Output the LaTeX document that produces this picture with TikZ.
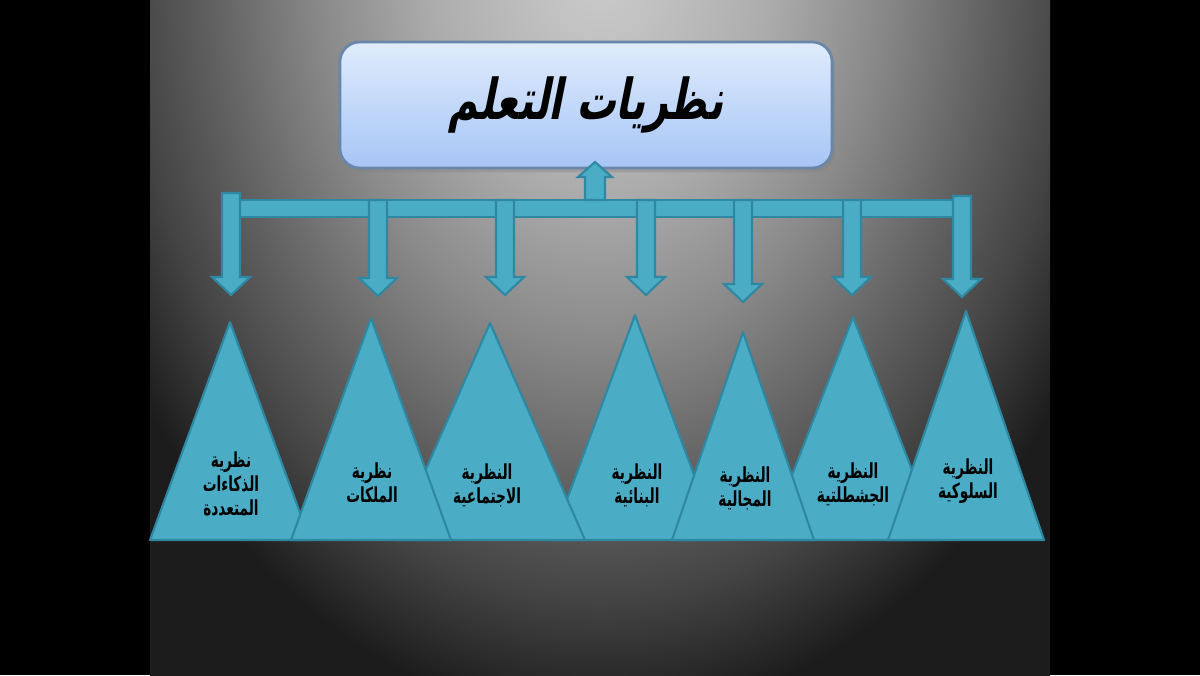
\documentclass[tikz,border=0pt]{standalone}
\usepackage{fontspec}
\usetikzlibrary{calc, shadows}
\TeXXeTstate=1
\newfontfamily\arabicfont[Script=Arabic,FakeStretch=0.66]{DejaVu Sans}
\newfontfamily\titlefont[Script=Arabic,FakeSlant=0.2,FakeStretch=0.7]{DejaVu Sans}
\newcommand{\arline}[1]{\beginR #1\endR}

\definecolor{tealfill}{HTML}{4BACC6}
\definecolor{tealline}{HTML}{2E88A2}
\definecolor{boxtop}{HTML}{E0ECFC}
\definecolor{boxbot}{HTML}{A6C5F6}
\definecolor{boxline}{HTML}{6A86A8}
\definecolor{bgA}{HTML}{CDCDCD}
\definecolor{bgB}{HTML}{ADADAD}
\definecolor{bgC}{HTML}{8A8A8A}
\definecolor{bgD}{HTML}{606060}
\definecolor{bgE}{HTML}{444444}
\definecolor{bgF}{HTML}{1C1C1C}
\pgfdeclareradialshading{slidebg}{\pgfpointorigin}{color(0bp)=(bgA); color(7.5bp)=(bgB); color(12.5bp)=(bgC); color(17.5bp)=(bgD); color(21bp)=(bgE); color(25bp)=(bgF); color(50bp)=(bgF)}

\begin{document}
\begin{tikzpicture}[x=0.01cm, y=-0.01cm,
	tri/.style={fill=tealfill, draw=tealline, line width=0.6pt, line join=round},
	blockarrow/.style={fill=tealfill, draw=tealline, line width=0.6pt, line join=miter},
	titlebox/.style={draw=boxline, line width=0.8pt, rounded corners=0.2cm, top color=boxtop, bottom color=boxbot,
		minimum width=4.92cm, minimum height=1.26cm, drop shadow={shadow xshift=0.8pt, shadow yshift=-1.2pt, opacity=0.35}},
	lbl/.style={font=\arabicfont\bfseries\fontsize{5.9}{6.8}\selectfont, align=center, inner sep=0pt}]

	% slide background
	\fill[black] (0,0) rectangle (1200,675);
	\begin{scope}
		\clip (150,0) rectangle (1050,675);
		% box of the ellipse centred at (600,-40), radii 560 x 760
		\shade[shading=slidebg] (40,-800) rectangle (1160,720);
	\end{scope}

	% triangles, back ones first
	\foreach \i/\x/\y/\w in {1/230/322/80, 4/635/315/83, 6/853/317/86, 3/490/323/95, 2/371/318/80, 5/743/332/71, 7/966/311/78}
		\draw[tri] (\x,\y) coordinate (apex\i) -- (\x+\w,540) -- (\x-\w,540) -- cycle;

	\node[lbl] (lab1) at (231,484) {\arline{نظرية}\\\arline{الذكاءات}\\\arline{المتعددة}};
	\node[lbl] (lab2) at (372,483) {\arline{نظرية}\\\arline{الملكات}};
	\node[lbl] (lab3) at (487,485) {\arline{النظرية}\\\arline{الاجتماعية}};
	\node[lbl] (lab4) at (637,485) {\arline{النظرية}\\\arline{البنائية}};
	\node[lbl] (lab5) at (745,488) {\arline{النظرية}\\\arline{المجالية}};
	\node[lbl] (lab6) at (853,484) {\arline{النظرية}\\\arline{الجشطلتية}};
	\node[lbl] (lab7) at (968,481) {\arline{النظرية}\\\arline{السلوكية}};

	% title
	\node[titlebox, font=\titlefont\bfseries\fontsize{16}{19}\selectfont] (title) at (586,105) {\arline{نظريات التعلم}};

	% bar and arrows
	\coordinate (barL) at (222,200);
	\coordinate (barR) at (970,217);
	\draw[blockarrow] (barL) rectangle (barR);

	\coordinate (upfoot) at (595,200);
	\coordinate (uptip) at (595,162);
	\draw[blockarrow] ($(upfoot)+(-10,0)$) -- ($(uptip)+(-10,15)$) -- ($(uptip)+(-17,15)$) -- (uptip)
		-- ($(uptip)+(17,15)$) -- ($(uptip)+(10,15)$) -- ($(upfoot)+(10,0)$) -- cycle;

	\foreach \i/\x/\f/\t in {1/231/193/295, 2/378/200/296, 3/505/200/295, 4/646/200/295, 5/743/200/302, 6/852/200/295, 7/962/196/297}
	{
		\coordinate (from\i) at (\x,\f);
		\coordinate (to\i) at (\x,\t);
		\draw[blockarrow] ($(from\i)+(-9,0)$) -- ($(to\i)+(-9,-18)$) -- ($(to\i)+(-19,-18)$) -- (to\i)
			-- ($(to\i)+(19,-18)$) -- ($(to\i)+(9,-18)$) -- ($(from\i)+(9,0)$) -- cycle;
	}

\end{tikzpicture}
\end{document}
